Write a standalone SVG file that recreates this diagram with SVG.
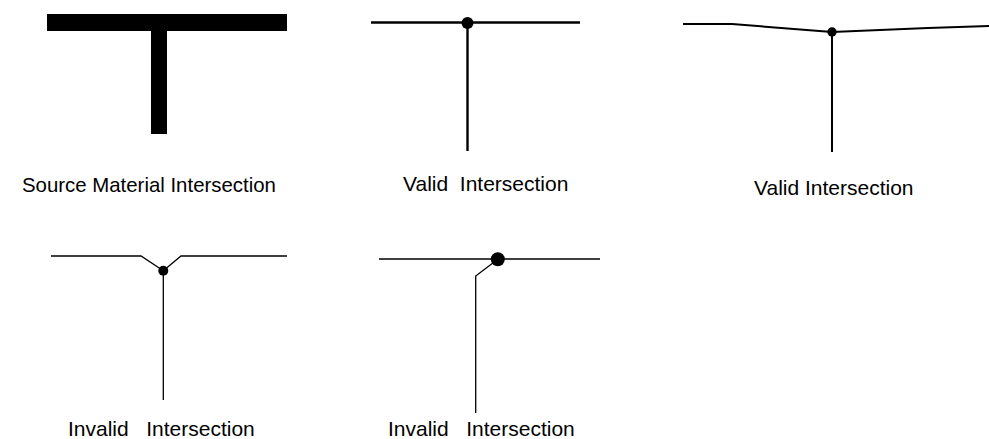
<svg xmlns="http://www.w3.org/2000/svg" width="989" height="439" viewBox="0 0 989 439">
<style>
text{font-family:"Liberation Sans",Arial,sans-serif;font-size:21px;fill:#000}
.thick{stroke:#000;stroke-width:2.4;fill:none}
.mid{stroke:#000;stroke-width:2;fill:none}
.thin{stroke:#000;stroke-width:1.3;fill:none}
</style>
<rect width="989" height="439" fill="#fff"/>
<g id="source">
<rect x="47" y="14" width="240" height="17" fill="#000"/>
<rect x="151" y="30" width="16" height="104" fill="#000"/>
<text x="22" y="192" style="font-size:20.4px" xml:space="preserve">Source Material Intersection</text>
</g>
<g id="valid1">
<line class="thick" x1="371" y1="22.5" x2="580" y2="22.5"/>
<line class="thick" x1="467.5" y1="22.5" x2="467.5" y2="151"/>
<circle cx="467.5" cy="23" r="6" fill="#000"/>
<text x="403" y="191" xml:space="preserve">Valid  Intersection</text>
</g>
<g id="valid2">
<polyline class="mid" points="683,24 732,24 832,32 928,28 989,26"/>
<line class="mid" x1="832" y1="32" x2="832" y2="152"/>
<circle cx="832" cy="32" r="4.7" fill="#000"/>
<text x="754" y="195" xml:space="preserve">Valid Intersection</text>
</g>
<g id="invalid1">
<polyline class="thin" points="51,256 141,256 163.3,270.7 181,256 287,256"/>
<line class="thin" x1="163.3" y1="270.7" x2="163.3" y2="400"/>
<circle cx="163.3" cy="270.7" r="5" fill="#000"/>
<text x="68" y="436" xml:space="preserve">Invalid   Intersection</text>
</g>
<g id="invalid2">
<line class="thin" x1="379" y1="259" x2="600" y2="259"/>
<polyline class="thin" points="497.8,259.3 475.7,276 475.7,413"/>
<circle cx="497.8" cy="259.3" r="7" fill="#000"/>
<text x="388" y="436" xml:space="preserve">Invalid   Intersection</text>
</g>
<g id="connectors"></g>
</svg>
